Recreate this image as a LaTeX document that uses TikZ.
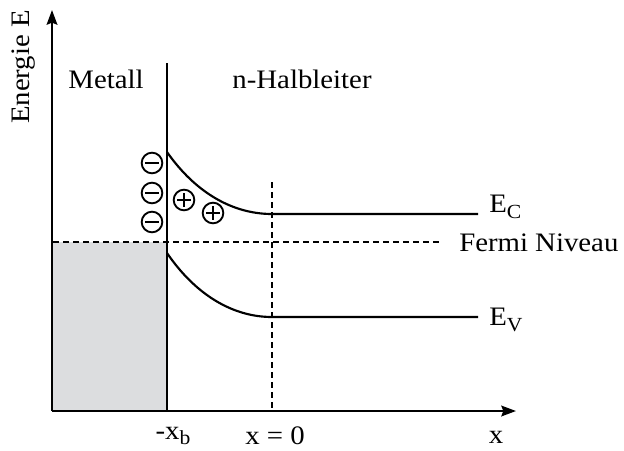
\documentclass[tikz,border=0pt]{standalone}
\usepackage{fontspec}
\setmainfont{Liberation Serif}[FakeStretch=1.08]
\usepackage{tikz}
\usetikzlibrary{arrows.meta, positioning, calc}

\definecolor{metalGrey}{HTML}{DCDDDF}

\begin{document}
\begin{tikzpicture}[
    x=0.75pt, y=-0.75pt,
    lbl/.style={inner sep=0pt, font=\fontsize{20}{22}\selectfont},
    axis/.style={line width=1.7pt, -{Stealth[length=11pt, width=8pt, inset=1.5pt]}},
    band/.style={line width=1.6pt},
    dashline/.style={line width=1.6pt, dash pattern=on 4.5pt off 3pt},
    charge/.style={circle, draw, line width=1.4pt, minimum size=15.5pt, inner sep=0pt},
    negion/.style={charge, path picture={\draw[line width=1.6pt] ([xshift=-5pt]path picture bounding box.center) -- ([xshift=5pt]path picture bounding box.center);}},
    posion/.style={charge, path picture={\draw[line width=1.6pt] ([xshift=-5pt]path picture bounding box.center) -- ([xshift=5pt]path picture bounding box.center);
        \draw[line width=1.6pt] ([yshift=-5pt]path picture bounding box.center) -- ([yshift=5pt]path picture bounding box.center);}}
]
\useasboundingbox (0,0) rectangle (624,450);

% Metal (filled states)
\fill[metalGrey] (53,242) rectangle (167,411);

% Axes
\coordinate (origin) at (52,411);
\coordinate (ytip) at (52,10);
\coordinate (xtip) at (516,411);
\draw[axis] (origin) -- (ytip);
\draw[axis] (origin) -- (xtip);
\node[lbl, rotate=90] (elabel) at (24,67) {Energie E};
\node[lbl] (xlabel) at (496,437) {x};

% Interface
\coordinate (itop) at (167,63);
\coordinate (ibot) at (167,411);
\draw[band] (itop) -- (ibot);
\node[lbl] (metall) at (106,79) {Metall};
\node[lbl] (halbl) at (302,79) {n-Halbleiter};
\node[lbl] (xb) at (173,436) {-x\raisebox{-4pt}{\fontsize{15}{15}\selectfont b}};

% Fermi level
\coordinate (fleft) at (53,242);
\coordinate (fright) at (440,242);
\draw[dashline] (fleft) -- (fright);
\node[lbl, anchor=west] (fermi) at (459,243) {Fermi Niveau};

% Bands
\coordinate (ec0) at (167,152);
\coordinate (ec1) at (272,214);
\coordinate (ec2) at (478,214);
\draw[band] (ec0) .. controls (195,192) and (232,214) .. (ec1) -- (ec2);
\node[lbl, anchor=west] (eclabel) at (489,207) {E\raisebox{-5pt}{\fontsize{15}{15}\selectfont C}};

\coordinate (ev0) at (167,253);
\coordinate (ev1) at (272,317);
\coordinate (ev2) at (478,317);
\draw[band] (ev0) .. controls (195,294) and (232,317) .. (ev1) -- (ev2);
\node[lbl, anchor=west] (evlabel) at (489,320) {E\raisebox{-5pt}{\fontsize{15}{15}\selectfont V}};

% x = 0
\coordinate (ztop) at (272,182);
\coordinate (zbot) at (272,411);
\draw[dashline] (ztop) -- (zbot);
\node[lbl] (zero) at (275,436) {x = 0};

% Space charge
\node[negion] (n1) at (152,163) {};
\node[negion] (n2) at (152,193) {};
\node[negion] (n3) at (152,222) {};
\node[posion] (p1) at (184,200) {};
\node[posion] (p2) at (213,213) {};

\end{tikzpicture}
\end{document}
